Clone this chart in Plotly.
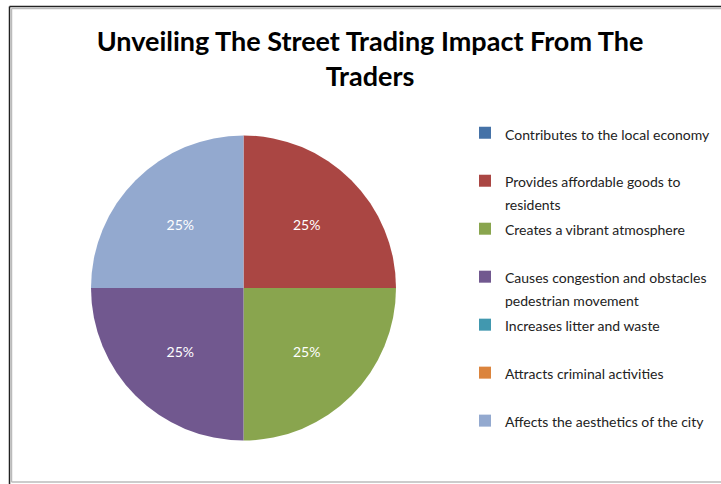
import plotly.graph_objects as go

categories = [
    "Contributes to the local economy",
    "Provides affordable goods to<br>residents",
    "Creates a vibrant atmosphere",
    "Causes congestion and obstacles<br>pedestrian movement",
    "Increases litter and waste",
    "Attracts criminal activities",
    "Affects the aesthetics of the city",
]
values = [0, 25, 25, 25, 0, 0, 25]
colors = ["#4572A7", "#AA4643", "#89A54E", "#71588F", "#4198AF", "#DB843D", "#93A9CF"]

W, H = 721, 484


def px(x):
    return x / W


def py(y):
    return 1 - y / H


legend_labels = []
for c in categories:
    lab = c if "<br>" in c else c + "<br> "
    legend_labels.append('<span style="font-size:14px">' + lab + "</span>")

texttemplate = ["" if v == 0 else "%{percent:.0%}" for v in values]

fig = go.Figure(
    go.Pie(
        labels=legend_labels,
        values=values,
        sort=False,
        direction="clockwise",
        rotation=0,
        marker=dict(colors=colors, line=dict(width=0)),
        texttemplate=texttemplate,
        textposition="inside",
        insidetextorientation="horizontal",
        textfont=dict(color="white", size=14, family="Lato"),
        hoverinfo="label+percent",
        domain=dict(x=[px(91), px(396)], y=[py(441), py(135)]),
    )
)

shapes = [
    dict(type="line", xref="paper", yref="paper", x0=px(9.5), x1=px(9.5), y0=py(6.5), y1=py(484),
         line=dict(color="#222222", width=1.5)),
    dict(type="line", xref="paper", yref="paper", x0=px(9.5), x1=px(721), y0=py(6.5), y1=py(6.5),
         line=dict(color="#222222", width=1.5)),
    dict(type="line", xref="paper", yref="paper", x0=px(11.5), x1=px(11.5), y0=py(8.5), y1=py(482),
         line=dict(color="#BBBBBB", width=1.5)),
    dict(type="line", xref="paper", yref="paper", x0=px(11.5), x1=px(721), y0=py(8.5), y1=py(8.5),
         line=dict(color="#BBBBBB", width=1.5)),
    dict(type="line", xref="paper", yref="paper", x0=px(11.5), x1=px(721), y0=py(482), y1=py(482),
         line=dict(color="#BBBBBB", width=1.5)),
]

fig.update_layout(
    width=W,
    height=H,
    margin=dict(l=0, r=0, t=0, b=0, autoexpand=False),
    paper_bgcolor="white",
    plot_bgcolor="white",
    title=dict(
        text="<b>Unveiling The Street Trading Impact From The<br>Traders</b>",
        x=px(370),
        xanchor="center",
        y=py(51),
        yanchor="top",
        font=dict(family="Lato", size=27, color="black"),
    ),
    legend=dict(
        x=px(465),
        xanchor="left",
        y=py(115),
        yanchor="top",
        font=dict(family="Lato", size=17.3, color="#222222"),
        valign="top",
        itemwidth=30,
        bgcolor="rgba(0,0,0,0)",
    ),
    shapes=shapes,
    showlegend=True,
)

fig.write_html(
    "out.html",
    config={"displayModeBar": False},
    post_script="document.body.style.margin='0';",
)
